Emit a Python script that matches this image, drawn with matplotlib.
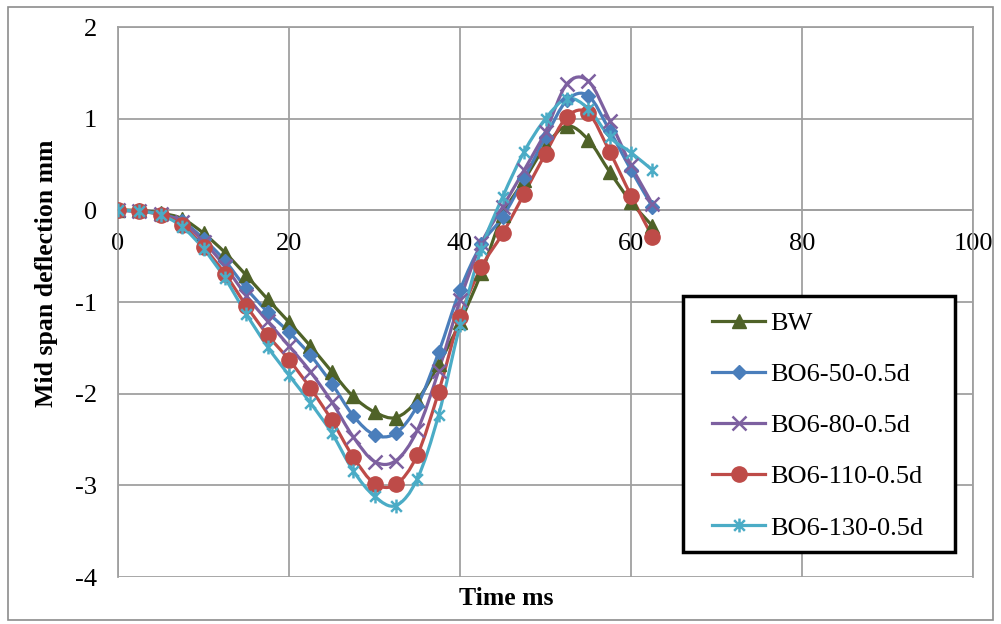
import numpy as np
import matplotlib
matplotlib.use('Agg')
import matplotlib.pyplot as plt
from matplotlib.path import Path
from matplotlib.patches import PathPatch, Rectangle
from matplotlib.lines import Line2D

time_ms = [0, 2.5, 5, 7.5, 10, 12.5, 15, 17.5, 20, 22.5, 25, 27.5, 30, 32.5,
           35, 37.5, 40, 42.5, 45, 47.5, 50, 52.5, 55, 57.5, 60, 62.5]

bw = [0, 0, -0.03, -0.09, -0.25, -0.46, -0.71, -0.97, -1.22, -1.48, -1.76, -2.03, -2.2,
      -2.26, -2.07, -1.68, -1.22, -0.68, -0.05, 0.33, 0.7, 0.92, 0.77, 0.42, 0.09, -0.17]
bo6_50 = [0, -0.01, -0.04, -0.12, -0.31, -0.55, -0.85, -1.11, -1.33, -1.58, -1.89, -2.24, -2.45,
          -2.43, -2.13, -1.55, -0.87, -0.37, -0.07, 0.35, 0.8, 1.2, 1.25, 0.87, 0.44, 0.04]
bo6_80 = [0, -0.01, -0.04, -0.13, -0.34, -0.61, -0.93, -1.21, -1.48, -1.76, -2.09, -2.47, -2.74,
          -2.73, -2.4, -1.75, -0.98, -0.36, 0.04, 0.44, 0.86, 1.38, 1.41, 0.98, 0.49, 0.07]
bo6_110 = [0, -0.01, -0.05, -0.16, -0.4, -0.69, -1.04, -1.36, -1.63, -1.94, -2.29, -2.69, -2.98,
           -2.99, -2.67, -1.98, -1.16, -0.62, -0.25, 0.18, 0.62, 1.02, 1.06, 0.64, 0.16, -0.29]
bo6_130 = [0, -0.01, -0.05, -0.18, -0.42, -0.74, -1.13, -1.49, -1.8, -2.1, -2.43, -2.84, -3.12,
           -3.22, -2.93, -2.23, -1.25, -0.42, 0.15, 0.64, 1.0, 1.22, 1.11, 0.8, 0.63, 0.44]

labels = ['BW', 'BO6-50-0.5d', 'BO6-80-0.5d', 'BO6-110-0.5d', 'BO6-130-0.5d']
colors = ['#4f6228', '#4a7ebb', '#7d60a0', '#be4b48', '#4bacc6']

# excel style asterisk: x plus vertical bar
star = Path([(-1, -1), (1, 1), (-1, 1), (1, -1), (0, -1.3), (0, 1.3)],
            [Path.MOVETO, Path.LINETO, Path.MOVETO, Path.LINETO, Path.MOVETO, Path.LINETO])
markers = [('^', 9.5, 1), ('D', 7.5, 1), ('x', 10, 1.8), ('o', 11, 1), (star, 10, 1.8)]


def smooth_path(x, y):
    # bezier through the points, like excel's smoothed line
    p = np.column_stack([x, y]).astype(float)
    pts = np.vstack([p[0], p, p[-1]])
    verts = [p[0]]
    codes = [Path.MOVETO]
    for i in range(1, len(pts) - 2):
        c1 = pts[i] + (pts[i + 1] - pts[i - 1]) / 6
        c2 = pts[i + 1] - (pts[i + 2] - pts[i]) / 6
        verts += [c1, c2, pts[i + 1]]
        codes += [Path.CURVE4] * 3
    return Path(verts, codes)


plt.rcParams['font.family'] = ['Liberation Serif', 'DejaVu Serif']
plt.rcParams['axes.unicode_minus'] = False

fig = plt.figure(figsize=(10.01, 6.24), dpi=100)
ax = fig.add_axes([0.1179, 0.0753, 0.8542, 0.8814])

handles = []
for vals, lab, col, (m, ms, mew) in zip([bw, bo6_50, bo6_80, bo6_110, bo6_130], labels, colors, markers):
    ax.add_patch(PathPatch(smooth_path(time_ms, vals), fill=False, edgecolor=col, lw=2.3, zorder=3))
    ax.plot(time_ms, vals, linestyle='none', marker=m, markersize=ms, color=col,
            markeredgecolor=col, markeredgewidth=mew, zorder=4)
    handles.append(Line2D([], [], color=col, lw=2.3, marker=m, markersize=ms,
                          markeredgecolor=col, markeredgewidth=mew))

ax.set_xlim(0, 100)
ax.set_ylim(-4, 2)
ax.set_xticks(range(0, 101, 20))
ax.set_yticks(range(-4, 3))
ax.grid(True, color='#a0a0a0', lw=1.3)
ax.set_axisbelow(True)
for s in ax.spines.values():
    s.set_color('#a0a0a0')
    s.set_linewidth(1.3)
ax.spines['bottom'].set_position(('data', 0))
ax.tick_params(axis='both', length=0, labelsize=19)
ax.tick_params(axis='x', pad=16)
ax.tick_params(axis='y', pad=15)

ax.set_xlabel('Time ms', fontsize=18.5, fontweight='bold')
ax.xaxis.set_label_coords(0.454, -0.018)
ax.set_ylabel('Mid span deflection mm', fontsize=18.5, fontweight='bold')
ax.yaxis.set_label_coords(-0.07, 0.553)

# legend box drawn separately, entries placed inside it
ax.add_patch(Rectangle((0.661, 0.0455), 0.318, 0.4655, transform=ax.transAxes,
                       facecolor='white', edgecolor='black', lw=2.5, zorder=5))
leg = ax.legend(handles, labels, loc='upper left', bbox_to_anchor=(0.695, 0.483),
                fontsize=19, frameon=False, handlelength=2.0,
                handletextpad=0.2, labelspacing=1.05, borderpad=0, borderaxespad=0)
leg.set_zorder(6)

fig.patches.append(Rectangle((0.008, 0.006), 0.984, 0.982, transform=fig.transFigure,
                             fill=False, edgecolor='#8c8c8c', lw=1.2))

plt.savefig('out.png', dpi=100)
